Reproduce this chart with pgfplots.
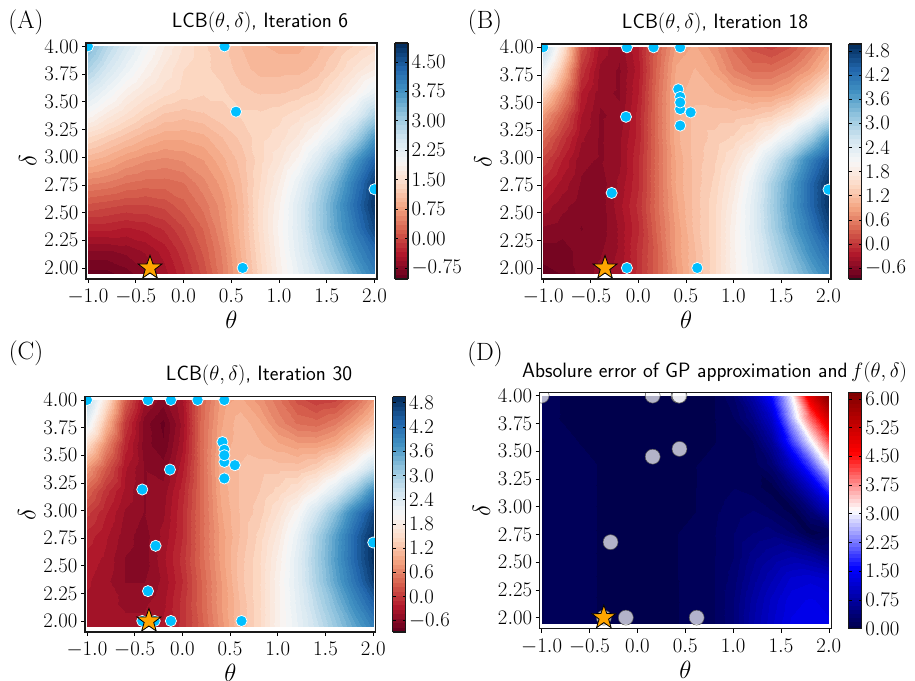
\documentclass[border=0pt]{standalone}
\usepackage{pgfplots}
\usepackage{pgfplotstable}
\pgfplotsset{compat=1.18}

\definecolor{dot}{RGB}{0,191,255}
\definecolor{staror}{RGB}{255,165,0}

\pgfplotsset{
  colormap={rdbubase}{rgb255=(103,0,31) rgb255=(178,24,43) rgb255=(214,96,77) rgb255=(244,165,130) rgb255=(253,219,199) rgb255=(247,247,247) rgb255=(209,229,240) rgb255=(146,197,222) rgb255=(67,147,195) rgb255=(33,102,172) rgb255=(5,48,97)},
  colormap={rdbu}{samples of colormap=(52 of rdbubase)},
  colormap={seismicbase}{rgb=(0,0,0.3) rgb=(0,0,1) rgb=(1,1,1) rgb=(1,0,0) rgb=(0.5,0,0)},
  colormap={seismic}{samples of colormap=(60 of seismicbase)},
}

% filled star for the optimum
\pgfdeclareplotmark{optstar}{%
  \pgfpathmoveto{\pgfqpointpolar{90}{\pgfplotmarksize}}%
  \pgfpathlineto{\pgfqpointpolar{126}{0.4\pgfplotmarksize}}%
  \pgfpathlineto{\pgfqpointpolar{162}{\pgfplotmarksize}}%
  \pgfpathlineto{\pgfqpointpolar{198}{0.4\pgfplotmarksize}}%
  \pgfpathlineto{\pgfqpointpolar{234}{\pgfplotmarksize}}%
  \pgfpathlineto{\pgfqpointpolar{270}{0.4\pgfplotmarksize}}%
  \pgfpathlineto{\pgfqpointpolar{306}{\pgfplotmarksize}}%
  \pgfpathlineto{\pgfqpointpolar{342}{0.4\pgfplotmarksize}}%
  \pgfpathlineto{\pgfqpointpolar{18}{\pgfplotmarksize}}%
  \pgfpathlineto{\pgfqpointpolar{54}{0.4\pgfplotmarksize}}%
  \pgfpathclose
  \pgfusepathqfillstroke
}

\pgfplotsset{
  panel/.style={
    anchor=south west, scale only axis,
    xmin=-1.02, xmax=2.026, ymin=1.90, ymax=4.03,
    axis line style={line width=1.3pt, black!90},
    tick style={black, line width=0.6pt},
    major tick length=4pt,
    tick align=outside, xtick pos=bottom, ytick pos=left,
    xtick={-1,-0.5,0,0.5,1,1.5,2},
    ytick={2,2.25,2.5,2.75,3,3.25,3.5,3.75,4},
    xticklabel style={yshift=-3pt,/pgf/number format/.cd,fixed,fixed zerofill,precision=1},
    yticklabel style={/pgf/number format/.cd,fixed,fixed zerofill,precision=2},
    tick label style={font=\fontsize{20}{20}\selectfont},
    xlabel={$\theta$}, ylabel={$\delta$},
    label style={font=\fontsize{29}{29}\selectfont},
    xlabel style={yshift=0pt}, ylabel style={yshift=1pt},
    axis on top, clip marker paths=true,
    colormap access=piecewise constant,
    colorbar,
  },
  cbar/.style n args={3}{
    colorbar style={
      at={(#1,1)}, anchor=north west, width=13pt,
      ytick={#2},
      yticklabel pos=right,
      axis line style={line width=1.3pt, black!90},
      tick style={black, line width=0.6pt},
      major tick length=3pt,
      tick label style={font=\fontsize{20}{20}\selectfont},
      yticklabel style={/pgf/number format/.cd,fixed,fixed zerofill,precision=#3},
    },
  },
  field/.style={
    surf, shader=interp, mesh/cols=16, point meta=\thisrow{z},
  },
  picks/.style={
    only marks, mark=*, mark size=5.6pt,
    mark options={fill=dot, draw=white, line width=0.7pt},
  },
  gppicks/.style={
    only marks, mark=*, mark size=7.5pt,
    mark options={fill=white, fill opacity=0.7, draw=black!70, line width=0.5pt},
  },
  best/.style={
    only marks, mark=optstar, mark size=12.5pt,
    mark options={fill=staror, draw=black, line width=0.8pt},
  },
}

\pgfplotstableread{
x y z
-1 1.95 -.95
-.8 1.95 -.95
-.6 1.95 -.85
-.4 1.95 -.7
-.2 1.95 -.5
0 1.95 -.25
.2 1.95 .05
.4 1.95 .45
.6 1.95 .9
.8 1.95 1.35
1 1.95 1.8
1.2 1.95 2.2
1.4 1.95 2.6
1.6 1.95 3.05
1.8 1.95 3.55
2 1.95 4.05
-1 2.155 -.7
-.8 2.155 -.7
-.6 2.155 -.65
-.4 2.155 -.55
-.2 2.155 -.4
0 2.155 -.15
.2 2.155 .15
.4 2.155 .5
.6 2.155 .95
.8 2.155 1.4
1 2.155 1.85
1.2 2.155 2.3
1.4 2.155 2.8
1.6 2.155 3.3
1.8 2.155 3.85
2 2.155 4.3
-1 2.36 -.3
-.8 2.36 -.3
-.6 2.36 -.35
-.4 2.36 -.3
-.2 2.36 -.2
0 2.36 0
.2 2.36 .25
.4 2.36 .6
.6 2.36 1
.8 2.36 1.45
1 2.36 1.9
1.2 2.36 2.35
1.4 2.36 2.95
1.6 2.36 3.55
1.8 2.36 4.1
2 2.36 4.7
-1 2.565 .1
-.8 2.565 .05
-.6 2.565 0
-.4 2.565 0
-.2 2.565 .05
0 2.565 .2
.2 2.565 .4
.4 2.565 .65
.6 2.565 1
.8 2.565 1.45
1 2.565 1.85
1.2 2.565 2.35
1.4 2.565 2.95
1.6 2.565 3.6
1.8 2.565 4.25
2 2.565 4.9
-1 2.77 .5
-.8 2.77 .45
-.6 2.77 .35
-.4 2.77 .3
-.2 2.77 .3
0 2.77 .35
.2 2.77 .55
.4 2.77 .75
.6 2.77 1.05
.8 2.77 1.4
1 2.77 1.75
1.2 2.77 2.2
1.4 2.77 2.8
1.6 2.77 3.4
1.8 2.77 4.1
2 2.77 4.8
-1 2.975 .95
-.8 2.975 .85
-.6 2.975 .7
-.4 2.975 .6
-.2 2.975 .55
0 2.975 .6
.2 2.975 .7
.4 2.975 .9
.6 2.975 1.1
.8 2.975 1.35
1 2.975 1.6
1.2 2.975 1.9
1.4 2.975 2.4
1.6 2.975 3
1.8 2.975 3.7
2 2.975 4.4
-1 3.18 1.4
-.8 3.18 1.25
-.6 3.18 1.1
-.4 3.18 .95
-.2 3.18 .85
0 3.18 .85
.2 3.18 .9
.4 3.18 1.05
.6 3.18 1.2
.8 3.18 1.35
1 3.18 1.45
1.2 3.18 1.65
1.4 3.18 1.95
1.6 3.18 2.35
1.8 3.18 2.95
2 3.18 3.7
-1 3.385 1.95
-.8 3.385 1.7
-.6 3.385 1.5
-.4 3.385 1.3
-.2 3.385 1.15
0 3.385 1.1
.2 3.385 1.15
.4 3.385 1.25
.6 3.385 1.3
.8 3.385 1.3
1 3.385 1.35
1.2 3.385 1.45
1.4 3.385 1.6
1.6 3.385 1.9
1.8 3.385 2.3
2 3.385 2.9
-1 3.59 2.4
-.8 3.59 2.1
-.6 3.59 1.8
-.4 3.59 1.6
-.2 3.59 1.45
0 3.59 1.35
.2 3.59 1.3
.4 3.59 1.3
.6 3.59 1.2
.8 3.59 1.15
1 3.59 1.15
1.2 3.59 1.2
1.4 3.59 1.3
1.6 3.59 1.55
1.8 3.59 1.85
2 3.59 2.2
-1 3.795 2.9
-.8 3.795 2.5
-.6 3.795 2.15
-.4 3.795 1.85
-.2 3.795 1.6
0 3.795 1.4
.2 3.795 1.3
.4 3.795 1.25
.6 3.795 1.1
.8 3.795 1
1 3.795 1
1.2 3.795 1
1.4 3.795 1.1
1.6 3.795 1.3
1.8 3.795 1.55
2 3.795 1.75
-1 4 3.3
-.8 4 2.8
-.6 4 2.4
-.4 4 2.05
-.2 4 1.75
0 4 1.5
.2 4 1.3
.4 4 1.2
.6 4 1.05
.8 4 .95
1 4 .9
1.2 4 .9
1.4 4 1
1.6 4 1.15
1.8 4 1.3
2 4 1.45
}\tabA

\pgfplotstableread{
x y z
-1 1.95 -.8
-.8 1.95 -.75
-.6 1.95 -.6
-.4 1.95 -.5
-.2 1.95 -.35
0 1.95 -.05
.2 1.95 .35
.4 1.95 .8
.6 1.95 1.15
.8 1.95 1.45
1 1.95 1.9
1.2 1.95 2.25
1.4 1.95 2.65
1.6 1.95 3.1
1.8 1.95 3.55
2 1.95 4
-1 2.155 -.7
-.8 2.155 -.7
-.6 2.155 -.6
-.4 2.155 -.55
-.2 2.155 -.4
0 2.155 -.05
.2 2.155 .35
.4 2.155 .85
.6 2.155 1.15
.8 2.155 1.45
1 2.155 1.9
1.2 2.155 2.3
1.4 2.155 2.8
1.6 2.155 3.3
1.8 2.155 3.85
2 2.155 4.3
-1 2.36 -.55
-.8 2.36 -.6
-.6 2.36 -.65
-.4 2.36 -.6
-.2 2.36 -.4
0 2.36 -.1
.2 2.36 .4
.4 2.36 .85
.6 2.36 1.2
.8 2.36 1.45
1 2.36 1.9
1.2 2.36 2.35
1.4 2.36 2.95
1.6 2.36 3.55
1.8 2.36 4.1
2 2.36 4.7
-1 2.565 -.35
-.8 2.565 -.5
-.6 2.565 -.6
-.4 2.565 -.6
-.2 2.565 -.35
0 2.565 -.05
.2 2.565 .45
.4 2.565 .9
.6 2.565 1.2
.8 2.565 1.45
1 2.565 1.85
1.2 2.565 2.35
1.4 2.565 3
1.6 2.565 3.65
1.8 2.565 4.3
2 2.565 4.9
-1 2.77 -.15
-.8 2.77 -.35
-.6 2.77 -.55
-.4 2.77 -.6
-.2 2.77 -.4
0 2.77 -.1
.2 2.77 .45
.4 2.77 .95
.6 2.77 1.2
.8 2.77 1.4
1 2.77 1.75
1.2 2.77 2.25
1.4 2.77 2.95
1.6 2.77 3.6
1.8 2.77 4.3
2 2.77 4.9
-1 2.975 .1
-.8 2.975 -.2
-.6 2.975 -.5
-.4 2.975 -.55
-.2 2.975 -.45
0 2.975 -.1
.2 2.975 .45
.4 2.975 .95
.6 2.975 1.2
.8 2.975 1.35
1 2.975 1.6
1.2 2.975 2
1.4 2.975 2.6
1.6 2.975 3.25
1.8 2.975 4
2 2.975 4.6
-1 3.18 .4
-.8 3.18 0
-.6 3.18 -.4
-.4 3.18 -.55
-.2 3.18 -.45
0 3.18 -.15
.2 3.18 .45
.4 3.18 1
.6 3.18 1.2
.8 3.18 1.3
1 3.18 1.4
1.2 3.18 1.6
1.4 3.18 1.95
1.6 3.18 2.4
1.8 3.18 3.05
2 3.18 3.8
-1 3.385 .8
-.8 3.385 .3
-.6 3.385 -.3
-.4 3.385 -.55
-.2 3.385 -.5
0 3.385 -.15
.2 3.385 .45
.4 3.385 1
.6 3.385 1.2
.8 3.385 1.2
1 3.385 1.2
1.2 3.385 1.25
1.4 3.385 1.35
1.6 3.385 1.6
1.8 3.385 2.05
2 3.385 2.6
-1 3.59 1.4
-.8 3.59 .7
-.6 3.59 -.2
-.4 3.59 -.5
-.2 3.59 -.55
0 3.59 -.2
.2 3.59 .45
.4 3.59 1
.6 3.59 1.1
.8 3.59 1.05
1 3.59 .95
1.2 3.59 .85
1.4 3.59 .85
1.6 3.59 1
1.8 3.59 1.35
2 3.59 1.75
-1 3.795 2.2
-.8 3.795 1.2
-.6 3.795 0
-.4 3.795 -.45
-.2 3.795 -.55
0 3.795 -.25
.2 3.795 .4
.4 3.795 .95
.6 3.795 1.05
.8 3.795 .9
1 3.795 .6
1.2 3.795 .45
1.4 3.795 .45
1.6 3.795 .6
1.8 3.795 .85
2 3.795 1.2
-1 4 2.9
-.8 4 1.7
-.6 4 .2
-.4 4 -.35
-.2 4 -.5
0 4 -.2
.2 4 .35
.4 4 .85
.6 4 .95
.8 4 .75
1 4 .45
1.2 4 .2
1.4 4 .1
1.6 4 .25
1.8 4 .55
2 4 .9
}\tabB

\pgfplotstableread{
x y z
-1 1.95 -.4
-.8 1.95 -.4
-.6 1.95 -.4
-.4 1.95 -.4
-.2 1.95 -.3
0 1.95 -.05
.2 1.95 .3
.4 1.95 .75
.6 1.95 1.15
.8 1.95 1.45
1 1.95 1.9
1.2 1.95 2.25
1.4 1.95 2.65
1.6 1.95 3.1
1.8 1.95 3.55
2 1.95 4
-1 2.155 -.35
-.8 2.155 -.4
-.6 2.155 -.45
-.4 2.155 -.45
-.2 2.155 -.35
0 2.155 -.05
.2 2.155 .35
.4 2.155 .8
.6 2.155 1.15
.8 2.155 1.45
1 2.155 1.9
1.2 2.155 2.3
1.4 2.155 2.8
1.6 2.155 3.3
1.8 2.155 3.85
2 2.155 4.35
-1 2.36 -.3
-.8 2.36 -.4
-.6 2.36 -.55
-.4 2.36 -.55
-.2 2.36 -.4
0 2.36 -.1
.2 2.36 .35
.4 2.36 .8
.6 2.36 1.2
.8 2.36 1.45
1 2.36 1.9
1.2 2.36 2.35
1.4 2.36 2.95
1.6 2.36 3.55
1.8 2.36 4.15
2 2.36 4.75
-1 2.565 -.25
-.8 2.565 -.35
-.6 2.565 -.55
-.4 2.565 -.6
-.2 2.565 -.35
0 2.565 -.05
.2 2.565 .4
.4 2.565 .85
.6 2.565 1.2
.8 2.565 1.45
1 2.565 1.85
1.2 2.565 2.35
1.4 2.565 3
1.6 2.565 3.65
1.8 2.565 4.3
2 2.565 4.9
-1 2.77 -.15
-.8 2.77 -.3
-.6 2.77 -.5
-.4 2.77 -.6
-.2 2.77 -.4
0 2.77 -.1
.2 2.77 .4
.4 2.77 .85
.6 2.77 1.15
.8 2.77 1.4
1 2.77 1.75
1.2 2.77 2.25
1.4 2.77 2.95
1.6 2.77 3.6
1.8 2.77 4.3
2 2.77 4.9
-1 2.975 .05
-.8 2.975 -.2
-.6 2.975 -.45
-.4 2.975 -.55
-.2 2.975 -.45
0 2.975 -.1
.2 2.975 .4
.4 2.975 .9
.6 2.975 1.15
.8 2.975 1.3
1 2.975 1.6
1.2 2.975 2
1.4 2.975 2.6
1.6 2.975 3.25
1.8 2.975 4
2 2.975 4.65
-1 3.18 .35
-.8 3.18 -.05
-.6 3.18 -.35
-.4 3.18 -.55
-.2 3.18 -.5
0 3.18 -.15
.2 3.18 .4
.4 3.18 .95
.6 3.18 1.15
.8 3.18 1.25
1 3.18 1.4
1.2 3.18 1.6
1.4 3.18 1.95
1.6 3.18 2.45
1.8 3.18 3.1
2 3.18 3.85
-1 3.385 .8
-.8 3.385 .25
-.6 3.385 -.3
-.4 3.385 -.55
-.2 3.385 -.6
0 3.385 -.25
.2 3.385 .4
.4 3.385 1
.6 3.385 1.15
.8 3.385 1.2
1 3.385 1.2
1.2 3.385 1.2
1.4 3.385 1.35
1.6 3.385 1.65
1.8 3.385 2.1
2 3.385 2.7
-1 3.59 1.5
-.8 3.59 .65
-.6 3.59 -.15
-.4 3.59 -.6
-.2 3.59 -.75
0 3.59 -.35
.2 3.59 .4
.4 3.59 .95
.6 3.59 1.1
.8 3.59 1.05
1 3.59 .95
1.2 3.59 .85
1.4 3.59 .85
1.6 3.59 1
1.8 3.59 1.35
2 3.59 1.8
-1 3.795 2.3
-.8 3.795 1.1
-.6 3.795 0
-.4 3.795 -.6
-.2 3.795 -.8
0 3.795 -.4
.2 3.795 .4
.4 3.795 .9
.6 3.795 1.1
.8 3.795 .95
1 3.795 .65
1.2 3.795 .45
1.4 3.795 .4
1.6 3.795 .55
1.8 3.795 .85
2 3.795 1.2
-1 4 2.9
-.8 4 1.6
-.6 4 .3
-.4 4 -.4
-.2 4 -.6
0 4 -.35
.2 4 .35
.4 4 .85
.6 4 .95
.8 4 .75
1 4 .5
1.2 4 .2
1.4 4 .05
1.6 4 .1
1.8 4 .4
2 4 .8
}\tabC

\pgfplotstableread{
x y z
-1 1.95 .1
-.8 1.95 .14
-.6 1.95 .12
-.4 1.95 .1
-.2 1.95 .1
0 1.95 .1
.2 1.95 .1
.4 1.95 .1
.6 1.95 .12
.8 1.95 .2
1 1.95 .4
1.2 1.95 .8
1.4 1.95 1.1
1.6 1.95 1.35
1.8 1.95 1.4
2 1.95 1.35
-1 2.155 .1
-.8 2.155 .14
-.6 2.155 .12
-.4 2.155 .1
-.2 2.155 .1
0 2.155 .1
.2 2.155 .1
.4 2.155 .1
.6 2.155 .12
.8 2.155 .2
1 2.155 .4
1.2 2.155 .75
1.4 2.155 1.05
1.6 2.155 1.3
1.8 2.155 1.35
2 2.155 1.3
-1 2.36 .1
-.8 2.36 .14
-.6 2.36 .12
-.4 2.36 .1
-.2 2.36 .1
0 2.36 .1
.2 2.36 .1
.4 2.36 .1
.6 2.36 .14
.8 2.36 .2
1 2.36 .35
1.2 2.36 .65
1.4 2.36 .9
1.6 2.36 1.15
1.8 2.36 1.2
2 2.36 1.1
-1 2.565 .1
-.8 2.565 .14
-.6 2.565 .12
-.4 2.565 .1
-.2 2.565 .1
0 2.565 .1
.2 2.565 .1
.4 2.565 .1
.6 2.565 .14
.8 2.565 .2
1 2.565 .3
1.2 2.565 .55
1.4 2.565 .7
1.6 2.565 .8
1.8 2.565 .7
2 2.565 .5
-1 2.77 .1
-.8 2.77 .14
-.6 2.77 .12
-.4 2.77 .1
-.2 2.77 .1
0 2.77 .1
.2 2.77 .1
.4 2.77 .1
.6 2.77 .12
.8 2.77 .2
1 2.77 .3
1.2 2.77 .4
1.4 2.77 .45
1.6 2.77 .3
1.8 2.77 .05
2 2.77 .15
-1 2.975 .1
-.8 2.975 .14
-.6 2.975 .12
-.4 2.975 .1
-.2 2.975 .08
0 2.975 .08
.2 2.975 .08
.4 2.975 .08
.6 2.975 .1
.8 2.975 .18
1 2.975 .25
1.2 2.975 .3
1.4 2.975 .2
1.6 2.975 .05
1.8 2.975 .45
2 2.975 1.05
-1 3.18 .1
-.8 3.18 .14
-.6 3.18 .12
-.4 3.18 .1
-.2 3.18 .08
0 3.18 .08
.2 3.18 .08
.4 3.18 .08
.6 3.18 .1
.8 3.18 .15
1 3.18 .2
1.2 3.18 .15
1.4 3.18 .05
1.6 3.18 .45
1.8 3.18 1.1
2 3.18 2
-1 3.385 .1
-.8 3.385 .14
-.6 3.385 .12
-.4 3.385 .1
-.2 3.385 .08
0 3.385 .08
.2 3.385 .08
.4 3.385 .08
.6 3.385 .1
.8 3.385 .12
1 3.385 .15
1.2 3.385 .15
1.4 3.385 .35
1.6 3.385 1.1
1.8 3.385 2
2 3.385 3.2
-1 3.59 .1
-.8 3.59 .12
-.6 3.59 .1
-.4 3.59 .08
-.2 3.59 .08
0 3.59 .08
.2 3.59 .08
.4 3.59 .08
.6 3.59 .08
.8 3.59 .1
1 3.59 .15
1.2 3.59 .2
1.4 3.59 .7
1.6 3.59 1.9
1.8 3.59 3
2 3.59 4.2
-1 3.795 .12
-.8 3.795 .1
-.6 3.795 .08
-.4 3.795 .08
-.2 3.795 .08
0 3.795 .08
.2 3.795 .08
.4 3.795 .08
.6 3.795 .08
.8 3.795 .1
1 3.795 .2
1.2 3.795 .5
1.4 3.795 1.1
1.6 3.795 2.6
1.8 3.795 4
2 3.795 5.2
-1 4 .15
-.8 4 .1
-.6 4 .08
-.4 4 .08
-.2 4 .08
0 4 .08
.2 4 .08
.4 4 .08
.6 4 .1
.8 4 .1
1 4 .3
1.2 4 .8
1.4 4 1.6
1.6 4 3
1.8 4 5
2 4 6.1
}\tabD

\begin{document}
\begin{tikzpicture}
\useasboundingbox (0pt,0pt) rectangle (915pt,680pt);

% (A)
\begin{axis}[panel, at={(86pt,401pt)}, width=291pt, height=236pt,
  point meta min=-1.03, point meta max=4.98,
  colormap name=rdbu,
  cbar={1.062}{-0.75,0,0.75,1.5,2.25,3,3.75,4.5}{2}]
\addplot[field] table {\tabA};
\addplot[picks] coordinates {(-1,4) (0.43,4) (0.55,3.41) (0.62,2) (2,2.71)};
\addplot[best] coordinates {(-0.35,2)};
\end{axis}

% (B)
\begin{axis}[panel, at={(541.3pt,401pt)}, width=289.7pt, height=235pt,
  point meta min=-0.87, point meta max=4.97,
  colormap name=rdbu,
  cbar={1.061}{-0.6,0,0.6,1.2,1.8,2.4,3,3.6,4.2,4.8}{1}]
\addplot[field] table {\tabB};
\addplot[picks] coordinates {(-1,4) (-0.12,4) (0.16,4) (0.44,4) (0.42,3.62) (0.44,3.55) (0.44,3.44) (0.55,3.41) (0.44,3.5) (0.44,3.29) (-0.13,3.37) (-0.28,2.68) (-0.12,2) (0.62,2) (2,2.71)};
\addplot[best] coordinates {(-0.35,2)};
\end{axis}

% (C)
\begin{axis}[panel, at={(85pt,48pt)}, width=290.7pt, height=235.3pt,
  point meta min=-0.88, point meta max=4.95,
  colormap name=rdbu,
  cbar={1.058}{-0.6,0,0.6,1.2,1.8,2.4,3,3.6,4.2,4.8}{1}]
\addplot[field] table {\tabC};
\addplot[picks] coordinates {(-1,4) (-0.36,4) (-0.12,4) (0.16,4) (0.44,4) (0.42,3.62) (0.44,3.55) (0.44,3.44) (0.55,3.41) (0.44,3.5) (0.44,3.29) (-0.13,3.37) (-0.42,3.19) (-0.28,2.68) (-0.36,2.27) (-0.42,2) (-0.29,2) (-0.12,2) (0.62,2) (2,2.71)};
\addplot[best] coordinates {(-0.35,2)};
\end{axis}

% (D)
\begin{axis}[panel, at={(539.7pt,51.3pt)}, width=291.6pt, height=236.4pt,
  point meta min=0, point meta max=6.17,
  colormap name=seismic,
  cbar={1.06}{0,0.75,1.5,2.25,3,3.75,4.5,5.25,6}{2}]
\addplot[field] table {\tabD};
\addplot[gppicks] coordinates {(-1,4) (0.16,4) (0.43,4) (0.44,4) (0.16,3.45) (0.44,3.52) (-0.28,2.68) (-0.35,2) (-0.12,2) (0.62,2)};
\addplot[best] coordinates {(-0.35,2)};
\end{axis}

\node[font=\fontsize{25}{25}\selectfont] at (26pt,658pt) {(A)};
\node[font=\fontsize{25}{25}\selectfont] at (485pt,658pt) {(B)};
\node[font=\fontsize{25}{25}\selectfont] at (26pt,327pt) {(C)};
\node[font=\fontsize{25}{25}\selectfont] at (485pt,326pt) {(D)};
\node[font=\huge\sffamily] at (260pt,658pt) {LCB$(\theta,\delta)$, Iteration 6};
\node[font=\huge\sffamily] at (715pt,657pt) {LCB$(\theta,\delta)$, Iteration 18};
\node[font=\huge\sffamily] at (259pt,305pt) {LCB$(\theta,\delta)$, Iteration 30};
\node[font=\huge\sffamily] at (714.5pt,308pt) {Absolure error of GP approximation and$\,f(\theta,\delta)$};
\end{tikzpicture}
\end{document}
